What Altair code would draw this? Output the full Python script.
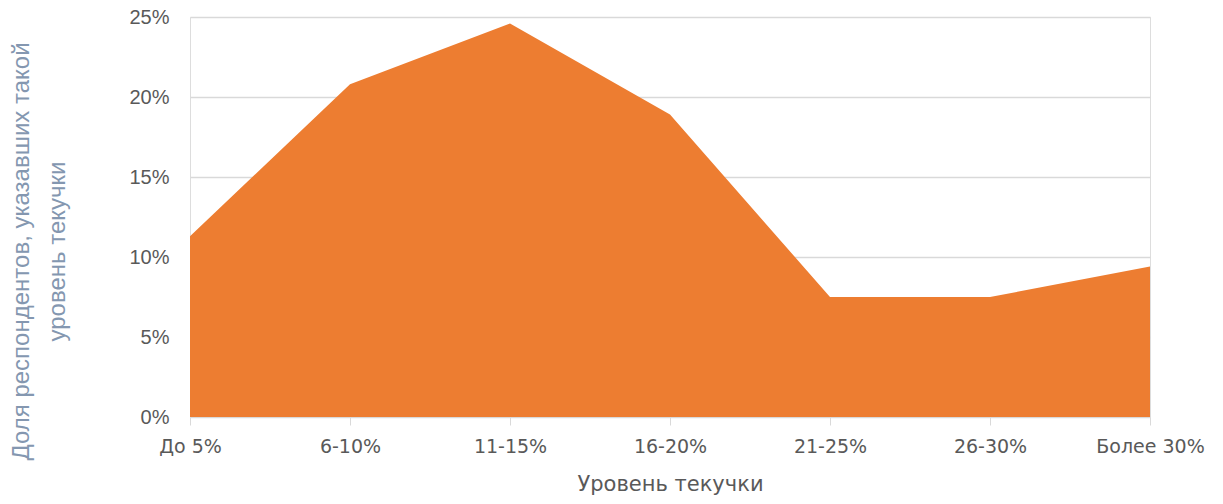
import altair as alt
import pandas as pd

categories = ["До 5%", "6-10%", "11-15%", "16-20%", "21-25%", "26-30%", "Более 30%"]
shares = [0.113, 0.208, 0.246, 0.189, 0.075, 0.075, 0.094]
y_ticks = [0, 0.05, 0.10, 0.15, 0.20, 0.25]

df = pd.DataFrame({"cat": categories, "share": shares})

chart = alt.Chart(df).mark_area(color="#ED7D31", opacity=1).encode(
    x=alt.X("cat:N", sort=categories,
            scale=alt.Scale(type="point", padding=0),
            axis=alt.Axis(title="Уровень текучки", labelAngle=0,
                          labelFont="DejaVu Sans", labelFontSize=19, labelColor="#595959",
                          labelPadding=12, tickSize=8, tickColor="#D9D9D9",
                          domain=False, grid=False,
                          titleFont="DejaVu Sans", titleFontSize=21, titleColor="#595959",
                          titleFontWeight="normal", titlePadding=17)),
    y=alt.Y("share:Q", scale=alt.Scale(domain=[0, 0.25]),
            axis=alt.Axis(values=y_ticks, format=".0%",
                          title=["Доля респондентов, указавших такой", "уровень текучки"],
                          labelFont="Liberation Sans", labelFontSize=20, labelColor="#595959",
                          labelPadding=21, domain=False, ticks=False,
                          gridColor="#D9D9D9", gridWidth=1.5,
                          titleFont="Liberation Sans", titleFontSize=24, titleColor="#8497B0",
                          titleFontWeight="normal", titleAngle=-90, titleAlign="center",
                          titleBaseline="top", titleLineHeight=36,
                          titleX=-181, titleY=234)),
).properties(
    width=960, height=400,
    autosize=alt.AutoSizeParams(type="none"),
    padding={"left": 182, "top": 9, "right": 57, "bottom": 79},
).configure_view(stroke=None).configure(background="white")

chart.save("out.html", embed_options={"renderer": "svg", "actions": False})
